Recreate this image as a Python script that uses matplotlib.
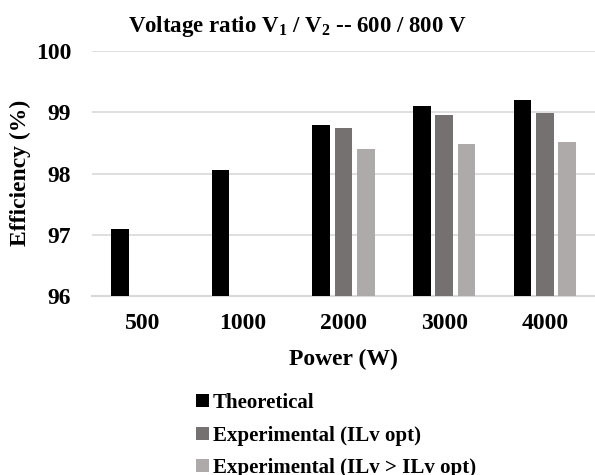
import matplotlib
matplotlib.use("Agg")
import matplotlib.pyplot as plt
import numpy as np

categories = ["500", "1000", "2000", "3000", "4000"]
theoretical = [97.10, 98.06, 98.79, 99.10, 99.20]
exp_opt = [np.nan, np.nan, 98.75, 98.95, 98.99]
exp_gt = [np.nan, np.nan, 98.40, 98.48, 98.52]
series_names = ["Theoretical", "Experimental (ILv opt)", "Experimental (ILv > ILv opt)"]
colors = ["#000000", "#767171", "#AEAAAA"]

plt.rcParams['font.family'] = ['Liberation Serif', 'DejaVu Serif']
plt.rcParams['font.weight'] = 'bold'
plt.rcParams['mathtext.fontset'] = 'custom'
plt.rcParams['mathtext.rm'] = 'Liberation Serif:bold'
plt.rcParams['mathtext.bf'] = 'Liberation Serif:bold'
plt.rcParams['mathtext.it'] = 'Liberation Serif:bold'

fig = plt.figure(figsize=(5.95, 4.75), dpi=100)
ax = fig.add_axes([92/595, 1 - 296/475, 503/595, (296 - 51)/475])

x = np.arange(len(categories))
pitch = 0.222
width = 0.176
bars = []
for i, (vals, name, c) in enumerate(zip([theoretical, exp_opt, exp_gt], series_names, colors)):
    b = ax.bar(x + (i - 1) * pitch, np.array(vals) - 96, bottom=96, width=width,
               color=c, label=name, zorder=3)
    bars.append(b)

ax.set_xlim(-0.5, 4.5)
ax.set_ylim(96, 100)
ax.set_yticks([96, 97, 98, 99, 100])
ax.set_yticklabels(["96", "97", "98", "99", "100"])
ax.set_xticks(x)
ax.set_xticklabels(categories)
ax.tick_params(axis='both', length=0, labelsize=17)
ax.tick_params(axis='y', pad=15)
ax.tick_params(axis='x', pad=12)
ax.grid(axis='y', color='#d9d9d9', linewidth=1.2, zorder=0)
for s in ['top', 'right', 'left']:
    ax.spines[s].set_visible(False)
ax.spines['bottom'].set_color('#d9d9d9')
ax.spines['bottom'].set_linewidth(1.5)

ax.set_xlabel("Power (W)", fontsize=17, fontweight='bold', labelpad=11)
fig.text(20/595, 1 - 173/475, "Efficiency (%)", rotation=90, ha='center', va='center',
         fontsize=17, fontweight='bold')

fig.text(297/595, 1 - 32/475, r"Voltage ratio V$_1$ / V$_2$ -- 600 / 800 V",
         ha='center', va='baseline', fontsize=16.5, fontweight='bold')

fig.legend(handles=bars, labels=series_names, loc='upper left',
           bbox_to_anchor=(196/595, 1 - 393/475), frameon=False, fontsize=15,
           handlelength=0.6, handleheight=0.6, handletextpad=0.2, labelspacing=0.6,
           borderaxespad=0, borderpad=0)

fig.savefig("out.png", dpi=100)
